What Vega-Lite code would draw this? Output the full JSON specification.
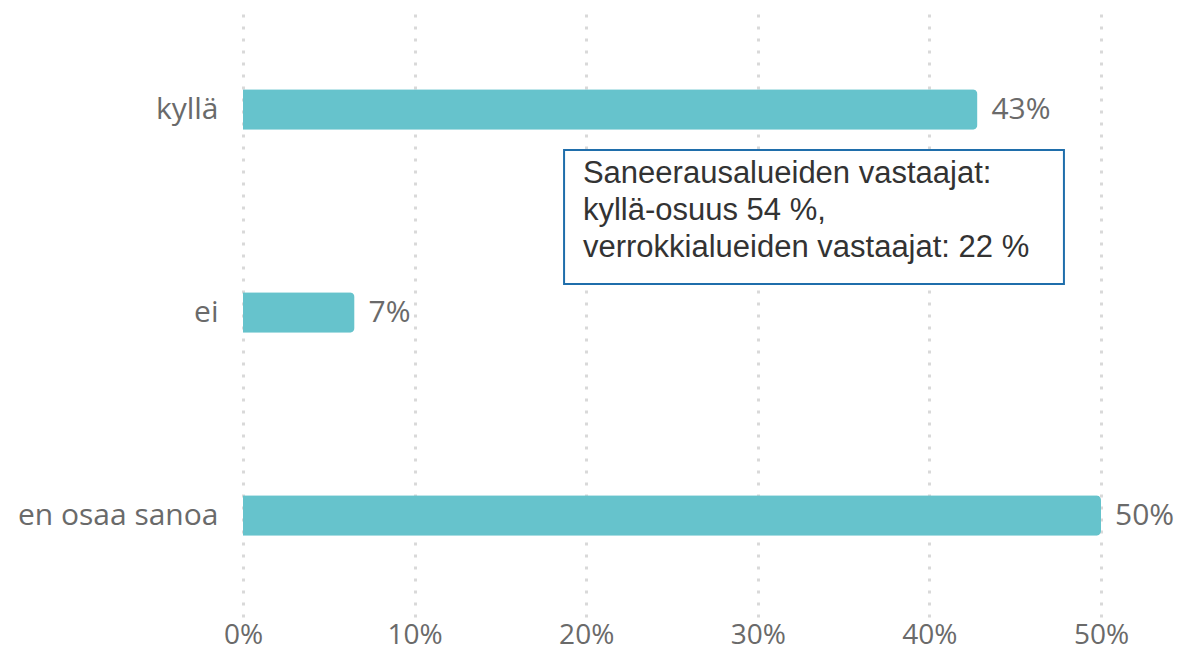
{
  "$schema": "https://vega.github.io/schema/vega-lite/v6.json",
  "width": 858,
  "height": 609,
  "autosize": "none",
  "padding": {"left": 243, "top": 8, "right": 78, "bottom": 34},
  "background": "white",
  "config": {"view": {"stroke": null}},
  "layer": [
    {
      "data": {"values": [
        {"answer": "kyllä", "share": 0.428, "label": "43%"},
        {"answer": "ei", "share": 0.065, "label": "7%"},
        {"answer": "en osaa sanoa", "share": 0.5, "label": "50%"}
      ]},
      "encoding": {
        "y": {"field": "answer", "type": "nominal", "sort": null,
          "scale": {"paddingInner": 0.8, "paddingOuter": 0.4},
          "axis": {"title": null, "domain": false, "ticks": false, "labelPadding": 25, "labelLimit": 400,
            "labelFont": "Open Sans", "labelFontSize": 30, "labelColor": "#6a6a6a", "grid": false}},
        "x": {"field": "share", "type": "quantitative",
          "scale": {"domain": [0, 0.5], "nice": false},
          "axis": {"title": null, "format": ".0%", "values": [0, 0.1, 0.2, 0.3, 0.4, 0.5],
            "domain": false, "ticks": false, "labelPadding": 26, "labelBaseline": "alphabetic", "labelFlush": false,
            "labelFont": "Open Sans", "labelFontSize": 28, "labelColor": "#6a6a6a",
            "grid": true, "gridColor": "#d9d9d9", "gridDash": [3, 9], "gridWidth": 3}}
      },
      "layer": [
        {"mark": {"type": "bar", "color": "#66c3cc", "cornerRadiusEnd": 5}},
        {"mark": {"type": "text", "align": "left", "baseline": "middle", "dx": 14,
          "font": "Open Sans", "fontSize": 30, "color": "#6a6a6a"},
          "encoding": {"text": {"field": "label"}}}
      ]
    },
    {
      "data": {"values": [
        {"x0": 0.1871, "x1": 0.4784, "y0": 0.6995, "y1": 1.3596, "tx": 0.1981, "ty": 0.8636,
          "note": ["Saneerausalueiden vastaajat:", "kyllä-osuus 54 %,", "verrokkialueiden vastaajat: 22 %"]}
      ]},
      "layer": [
        {"mark": {"type": "rect", "fill": "white", "stroke": "#1f6eab", "strokeWidth": 2},
          "encoding": {
            "x": {"field": "x0", "type": "quantitative", "scale": {"domain": [0, 0.5], "nice": false}},
            "x2": {"field": "x1"},
            "y": {"field": "y0", "type": "quantitative", "scale": {"domain": [0, 3], "reverse": true, "nice": false, "zero": false}, "axis": null},
            "y2": {"field": "y1"}
          }},
        {"mark": {"type": "text", "align": "left", "baseline": "alphabetic",
          "font": "Liberation Sans", "fontSize": 31, "lineHeight": 37, "color": "#333333"},
          "encoding": {
            "x": {"field": "tx", "type": "quantitative", "scale": {"domain": [0, 0.5], "nice": false}},
            "y": {"field": "ty", "type": "quantitative", "scale": {"domain": [0, 3], "reverse": true, "nice": false, "zero": false}, "axis": null},
            "text": {"field": "note"}
          }}
      ]
    }
  ],
  "resolve": {"scale": {"y": "independent"}}
}
